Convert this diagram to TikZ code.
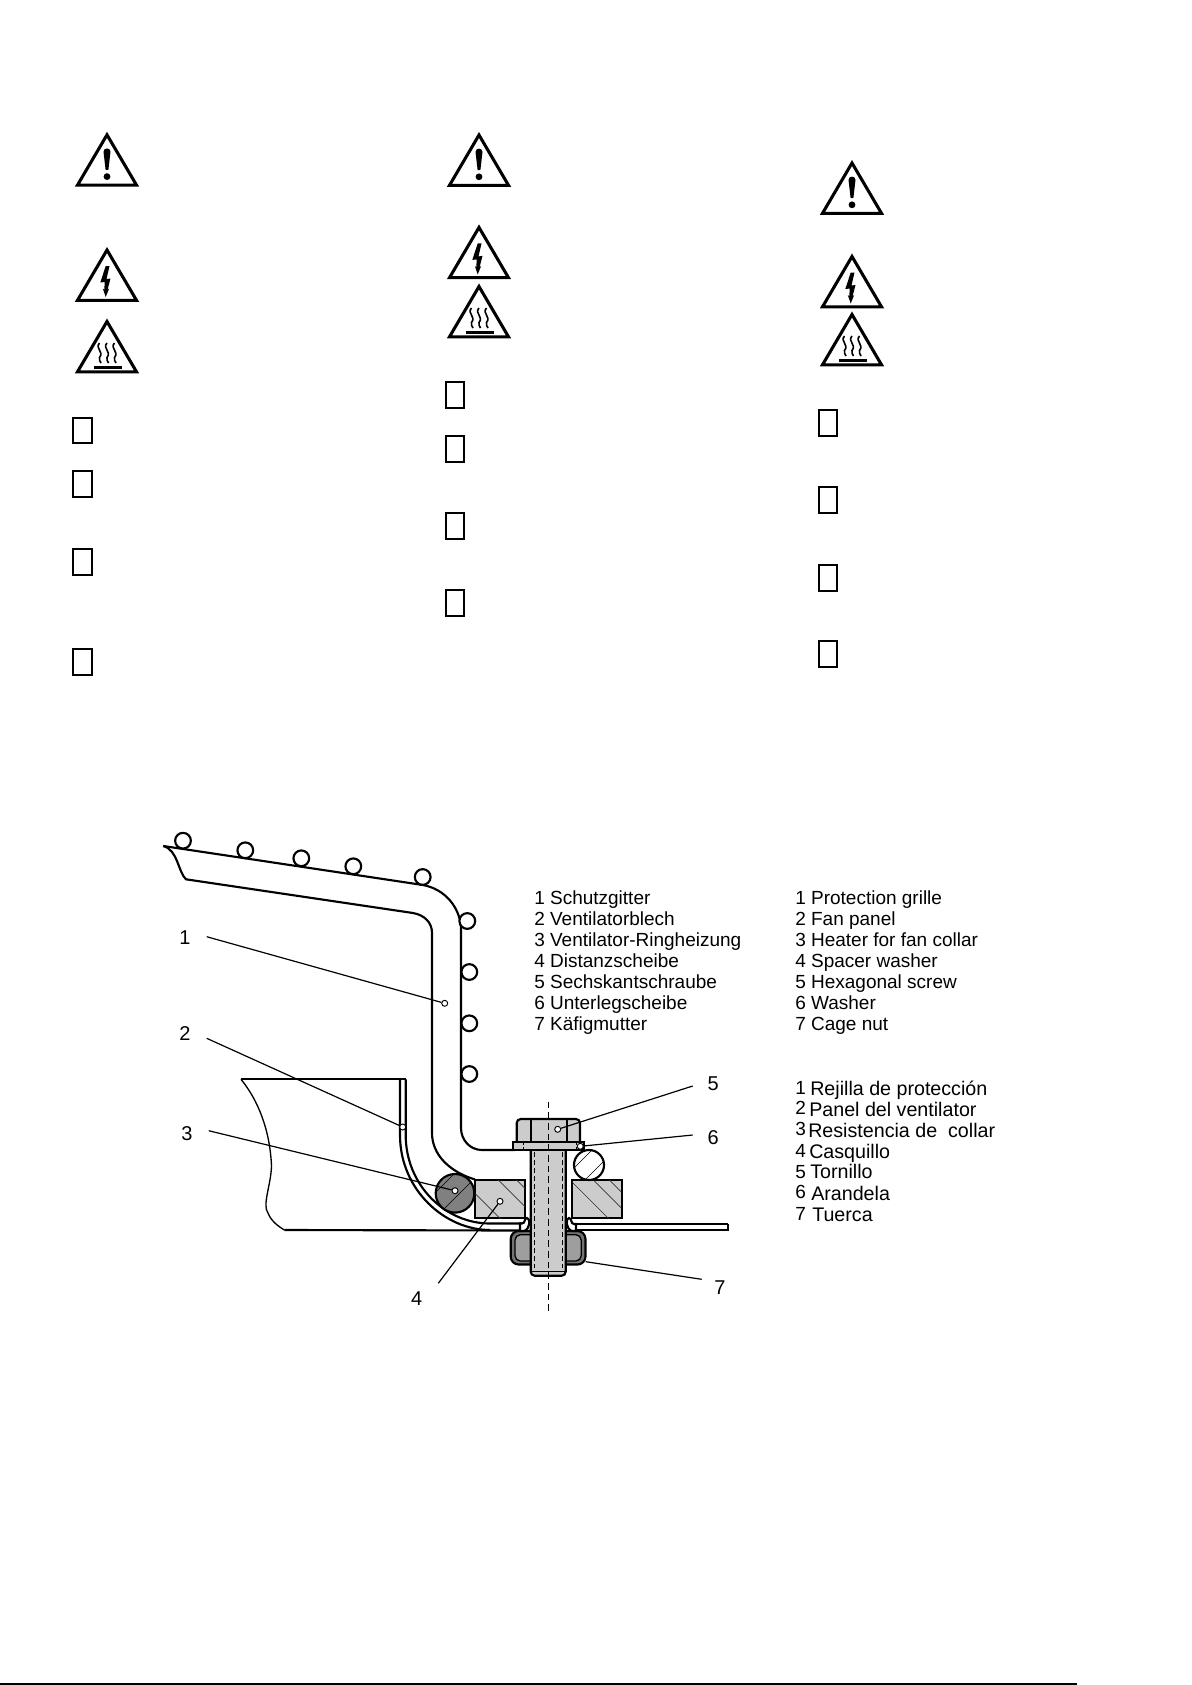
\documentclass[tikz,border=0pt]{standalone}
\usepackage{fontspec}
\setmainfont{Liberation Sans}
\usetikzlibrary{positioning, arrows.meta, calc}

\begin{document}
\begin{tikzpicture}[
    x=0.75pt, y=-0.75pt,
    % Node styles
    partlist/.style={anchor=base west, inner sep=0pt, font=\fontsize{14.25pt}{17pt}\selectfont},
    partlistes/.style={partlist, font=\fontsize{14.75pt}{17pt}\selectfont},
    partnum/.style={anchor=center, inner sep=0pt, font=\fontsize{15pt}{17pt}\selectfont},
    checkbox/.style={draw=black, line width=1.5pt, fill=white, minimum width=14.2pt, minimum height=18.8pt, inner sep=0pt},
    ballmark/.style={circle, draw=black, line width=1.6pt, fill=white, minimum size=11.8pt, inner sep=0pt},
    tipmark/.style={circle, draw=black, line width=0.7pt, fill=white, minimum size=4.5pt, inner sep=0pt},
    leader/.style={draw=black, line width=0.9pt},
    outline/.style={draw=black, line width=1.6pt},
    thinline/.style={draw=black, line width=1pt},
    hatching/.style={draw=black!80, line width=0.5pt},
    threadline/.style={draw=black, line width=0.7pt, dash pattern=on 4pt off 2pt},
    steel/.style={fill=black!20},
    darkpart/.style={fill=black!50},
    % Warning signs, (0,0) is the apex
    warntri/.style={draw=black, line width=2.3pt, line join=miter, fill=white},
    pics/warnbang/.style={code={
        \draw[warntri] (0,0) -- (-29.5,50.3) -- (29.5,50.3) -- cycle;
        \fill[black] (-3.5,17) .. controls (-3.5,12.5) and (3.5,12.5) .. (3.5,17) -- (1.4,35) -- (-1.4,35) -- cycle;
        \fill[black] (0,41.8) circle (3.4);
    }},
    pics/warnbolt/.style={code={
        \draw[warntri] (0,0) -- (-29.5,50.3) -- (29.5,50.3) -- cycle;
        \fill[black] (-1.3,16) -- (2.5,16) -- (-0.5,29) -- (3.5,28.5) -- (0.5,40) -- (2.2,38.5) -- (-1.3,47) -- (-4.2,38.5) -- (-2.7,40) -- (-2.3,32) -- (-6.7,32.5) -- cycle;
    }},
    pics/warnheat/.style={code={
        \draw[warntri] (0,0) -- (-29.5,50.3) -- (29.5,50.3) -- cycle;
        \foreach \xx in {-7.5,0,7.5} {
            \draw[black, line width=1.2pt] (\xx,21.5) .. controls (\xx-5,27) and (\xx+5,30) .. (\xx,36) .. controls (\xx-1,38) and (\xx+1,40) .. (\xx+1.5,41.5);
        }
        \fill[black] (-13.3,44.5) rectangle (15,47);
    }}
]
\useasboundingbox (0,0) rectangle (1192,1685);

% Warning signs of the three columns
\foreach \cx/\ya/\yb/\yc in {107/134.8/250/321.5, 479/135/227.4/286.5, 852/163/256.5/314.5} {
    \pic at (\cx,\ya) {warnbang};
    \pic at (\cx,\yb) {warnbolt};
    \pic at (\cx,\yc) {warnheat};
}

% Empty boxes of the three columns
\foreach \yy [count=\i] in {430.3,484,562,662} {
    \node[checkbox] (boxa\i) at (82.8,\yy) {};
}
\foreach \yy [count=\i] in {395,449,526,603} {
    \node[checkbox] (boxb\i) at (455,\yy) {};
}
\foreach \yy [count=\i] in {423,500,578,654} {
    \node[checkbox] (boxc\i) at (828,\yy) {};
}

% Part lists
\foreach \txt [count=\i] in {1 Schutzgitter, 2 Ventilatorblech, 3 Ventilator-Ringheizung, 4 Distanzscheibe, 5 Sechskantschraube, 6 Unterlegscheibe, 7 K\"afigmutter} {
    \node[partlist] (de\i) at (534,883+21*\i) {\txt};
}
\foreach \txt [count=\i] in {1 Protection grille, 2 Fan panel, 3 Heater for fan collar, 4 Spacer washer, 5 Hexagonal screw, 6 Washer, 7 Cage nut} {
    \node[partlist] (en\i) at (795,883+21*\i) {\txt};
}
\foreach \txt/\tx/\ty/\ny [count=\i] in {Rejilla de protecci\'on/810/1095/1094, Panel del ventilator/809/1116/1114, Resistencia de\ \ collar/808/1137/1135, Casquillo/809/1158/1157, Tornillo/810/1178/1178, Arandela/811/1200/1198, Tuerca/812/1221/1220} {
    \node[partlist] (esnum\i) at (795,\ny) {\i};
    \node[partlistes] (es\i) at (\tx,\ty) {\txt};
}

% Fan panel
\draw[outline] (241,1079.3) -- (405.7,1079.3);
\draw[thinline] (241,1079.3) .. controls (258,1100) and (270,1130) .. (271.5,1166) .. controls (271,1185) and (262,1205) .. (268,1213) .. controls (271,1221) and (278,1226) .. (284.3,1230);
\draw[outline] (284.3,1230) -- (520,1230.5);
\draw[outline] (405.7,1079.3) -- (405.7,1135) .. controls (405.7,1185) and (445,1223.5) .. (490,1223.5) -- (522,1223.5);
\draw[outline] (400,1079.3) -- (400,1135) .. controls (400,1190) and (445,1230) .. (490,1230);
\draw[outline] (728,1224) -- (728,1230) -- (574,1230);
\draw[outline] (728,1224) -- (574,1224);

% Protection grille
\draw[outline] (163.3,846) -- (423,885) .. controls (445,889) and (461,908) .. (461,930) -- (461,1128) .. controls (461,1140) and (470,1150) .. (482,1150) -- (515,1150);
\draw[outline] (163.3,846) .. controls (178,850) and (178,872) .. (186,879.3) -- (413,913) .. controls (424,915) and (432,922) .. (432,933) -- (432,1133) .. controls (432,1155) and (450,1172) .. (475,1179.5);
\foreach \bx/\by [count=\i] in {183/840.7, 245.3/850.3, 301.3/858.3, 353.3/866.3, 422.7/877, 467.3/921, 469.3/972, 469.3/1023.3, 469.3/1074} {
    \node[ballmark] (ball\i) at (\bx,\by) {};
}

% Spacer washer, both sides of the screw
\draw[outline, steel] (475,1180) rectangle (525,1218.3);
\draw[outline, steel] (572.3,1180) rectangle (621.7,1218.3);
\begin{scope}
    \clip (475,1180) rectangle (525,1218.3);
    \foreach \d in {718.3,681.7,663.3} {
        \draw[hatching] (450,450+\d) -- (570,570+\d);
    }
\end{scope}
\begin{scope}
    \clip (572.3,1180) rectangle (621.7,1218.3);
    \foreach \d in {610,586.7,570.7} {
        \draw[hatching] (550,550+\d) -- (670,670+\d);
    }
\end{scope}

% Heater for fan collar
\draw[outline, darkpart] (455,1193.3) circle (19.3);
\begin{scope}
    \clip (455,1193.3) circle (19);
    \foreach \s in {1628,1653} {
        \draw[hatching, black] (400,\s-400) -- (500,\s-500);
    }
\end{scope}

% Wire ring of the grille
\draw[outline, fill=white] (589,1165) circle (15);
\begin{scope}
    \clip (589,1165) circle (15);
    \foreach \s in {1742,1765} {
        \draw[hatching, black] (550,\s-550) -- (630,\s-630);
    }
\end{scope}

% Cage nut
\draw[outline, fill=black!55, rounded corners=6pt] (510.7,1231) rectangle (585.5,1264.5);
\draw[thinline, fill=black!38, rounded corners=4pt] (515,1234.7) rectangle (581.2,1261);

% Hooks of the panel round the nut
\draw[outline, fill=white] (520,1223.5) -- (522,1223.5) .. controls (525.5,1223.5) and (524,1218) .. (527,1218) .. controls (530.5,1218) and (530.5,1229) .. (524,1231) -- (520,1231) -- cycle;
\draw[outline, fill=white] (576,1224) -- (574,1224) .. controls (570.5,1224) and (572,1218) .. (569,1218) .. controls (565.5,1218) and (565.5,1229) .. (572,1231) -- (576,1231) -- cycle;

% Hexagonal screw
\draw[outline, steel, rounded corners=3pt] (530.7,1151) -- (530.7,1275.7) -- (565.7,1275.7) -- (565.7,1151);
\draw[threadline] (534.5,1152) -- (534.5,1268);
\draw[threadline] (562.5,1152) -- (562.5,1268);
\draw[thinline] (531,1271.7) -- (565.5,1271.7);
\draw[outline, steel, rounded corners=3pt] (516.7,1142) -- (516.7,1119) -- (580,1119) -- (580,1142);
\draw[outline, steel] (513.3,1142.3) rectangle (584,1150);
\draw[outline] (530.7,1119) -- (530.7,1142);
\draw[outline] (566.7,1119) -- (566.7,1142);
\draw[thinline, dash pattern=on 2pt off 1.5pt] (523.3,1142.5) -- (523.3,1150);
\draw[thinline, dash pattern=on 2pt off 1.5pt] (576.7,1142.5) -- (576.7,1150);
\draw[thinline, dash pattern=on 5pt off 3pt] (548.3,1101.7) -- (548.3,1312.7);

% Leaders and their labels
\node[partnum] (lab1) at (185,937.7) {1};
\node[partnum] (lab2) at (185,1033.5) {2};
\node[partnum] (lab3) at (187,1133.5) {3};
\node[partnum] (lab4) at (416.7,1299) {4};
\node[partnum] (lab5) at (713.3,1084) {5};
\node[partnum] (lab6) at (713.3,1138) {6};
\node[partnum] (lab7) at (720,1288) {7};

\node[tipmark] (tip1) at (444.7,1003.3) {};
\node[tipmark] (tip2) at (402.7,1127) {};
\node[tipmark] (tip3) at (455,1190.7) {};
\node[tipmark] (tip4) at (500,1201.3) {};
\node[tipmark] (tip5) at (557.7,1129.3) {};
\node[tipmark] (tip6) at (580.3,1146.3) {};
\coordinate (tip7) at (585.7,1261.7);

\coordinate (start1) at (206.7,936.7);
\coordinate (start2) at (206.7,1038.3);
\coordinate (start3) at (208.7,1130.7);
\coordinate (start4) at (438.3,1283.3);
\coordinate (start5) at (692.7,1086);
\coordinate (start6) at (692.7,1135);
\coordinate (start7) at (701.7,1279.3);

\foreach \i in {1,...,7} {
    \draw[leader] (start\i) -- (tip\i);
}

% Bottom rule of the page
\draw[draw=black, line width=1.3pt] (0,1684) -- (1077,1684);

\end{tikzpicture}
\end{document}
